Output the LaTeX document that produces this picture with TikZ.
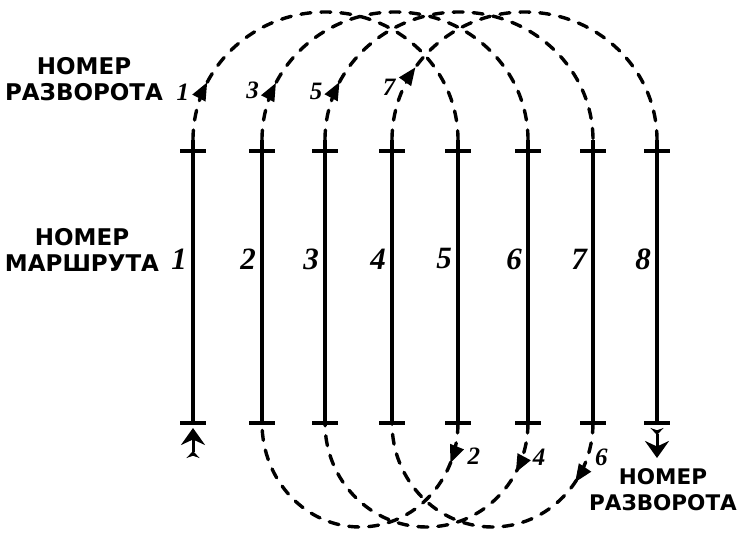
\documentclass[tikz,border=0pt]{standalone}
\usepackage{fontspec}
\newfontfamily\capfont{DejaVu Sans}
\newfontfamily\numfont{Liberation Serif}
\usepackage{tikz}
\usetikzlibrary{
  arrows.meta,
  positioning,
  calc,
  decorations.markings
}
\definecolor{ink}{RGB}{0, 0, 0}
\tikzset{
  route/.style = {draw=ink, line width=4pt},
  tick/.style  = {draw=ink, line width=3.6pt},
  turn/.style  = {
    draw=ink, line width=3.4pt, line cap=round,
    dash pattern=on 10pt off 10pt
  },
  turnarr/.style 2 args = {
    postaction={decorate, decoration={markings,
      mark=at position #1 with {\arrow[solid]{Triangle[length=18pt,width=14pt]}
                                 \coordinate (#2);}}}
  },
  rnum/.style = {
    font=\numfont\bfseries\itshape\fontsize{31}{31}\selectfont,
    inner sep=0pt, anchor=east
  },
  tnum/.style = {
    font=\numfont\bfseries\itshape\fontsize{25}{25}\selectfont,
    inner sep=0pt
  },
  hdr/.style = {
    font=\capfont\bfseries\fontsize{#1}{26}\selectfont,
    align=center, inner sep=0pt
  },
  hdr/.default = 23pt,
  plane/.style = {
    draw=ink, line width=3pt,
    arrows={Stealth[reversed,length=7pt,width=13pt]-Stealth[length=17pt,width=24pt]}
  },
}

\begin{document}
\begin{tikzpicture}[x=1pt, y=-1pt]
  \useasboundingbox (0,0) rectangle (740,534);

  %% ── Routes ─────────────────────────────────────────────────────────────
  \foreach \i/\x in {1/193, 2/262, 3/325, 4/392, 5/458, 6/528, 7/593, 8/657} {
    \coordinate (t\i) at (\x,140);
    \coordinate (b\i) at (\x,423);
    \draw[route] (t\i) -- (b\i);
    \draw[tick] ([xshift=-13pt,yshift=-11pt]t\i) -- ([xshift=13pt,yshift=-11pt]t\i);
    \draw[tick] ([xshift=-13pt]b\i) -- ([xshift=13pt]b\i);
    \node[rnum] (n\i) at ([xshift=-6pt]\x,259) {\i};
  }

  %% ── Turns ──────────────────────────────────────────────────────────────
  % upper turns
  \foreach \a/\b/\pos/\k in {1/5/0.147/1, 2/6/0.145/3, 3/7/0.147/5, 4/8/0.19/7} {
    \draw[turn, turnarr={\pos}{u\k}] let \p1=(t\a), \p2=(t\b) in
      (t\a) arc[start angle=180, end angle=0,
                x radius={(\x2-\x1)/2}, y radius=128pt];
  }
  % lower turns
  \foreach \a/\b/\pos/\k in {5/2/0.13/2, 6/3/0.16/4, 7/4/0.196/6} {
    \draw[turn, turnarr={\pos}{d\k}] let \p1=(b\a), \p2=(b\b) in
      (b\a) arc[start angle=0, end angle=-180,
                x radius={(\x1-\x2)/2}, y radius=104pt];
  }

  \foreach \k/\dx/\dy in {1/-18/-10, 3/-17/-8, 5/-17/-10, 7/-20/-20}
    \node[tnum, anchor=east] (l\k) at ([xshift=\dx pt, yshift=\dy pt]u\k) {\k};
  \foreach \k/\dx/\dy in {2/17/7, 4/17/15, 6/20/25}
    \node[tnum, anchor=west] (l\k) at ([xshift=\dx pt, yshift=\dy pt]d\k) {\k};

  %% ── Entry and exit ─────────────────────────────────────────────────────
  \draw[plane] ([yshift=-35pt]b1) -- ([yshift=-5pt]b1);
  \draw[plane] ([yshift=-5pt]b8) -- ([yshift=-35pt]b8);

  %% ── Captions ───────────────────────────────────────────────────────────
  \node[hdr] (capturn) at (84,79) {НОМЕР\\РАЗВОРОТА};
  \node[hdr] (caproute) at (82,250) {НОМЕР\\МАРШРУТА};
  \node[hdr=21.5pt] (capturnb) at (663,490) {НОМЕР\\РАЗВОРОТА};

\end{tikzpicture}
\end{document}
